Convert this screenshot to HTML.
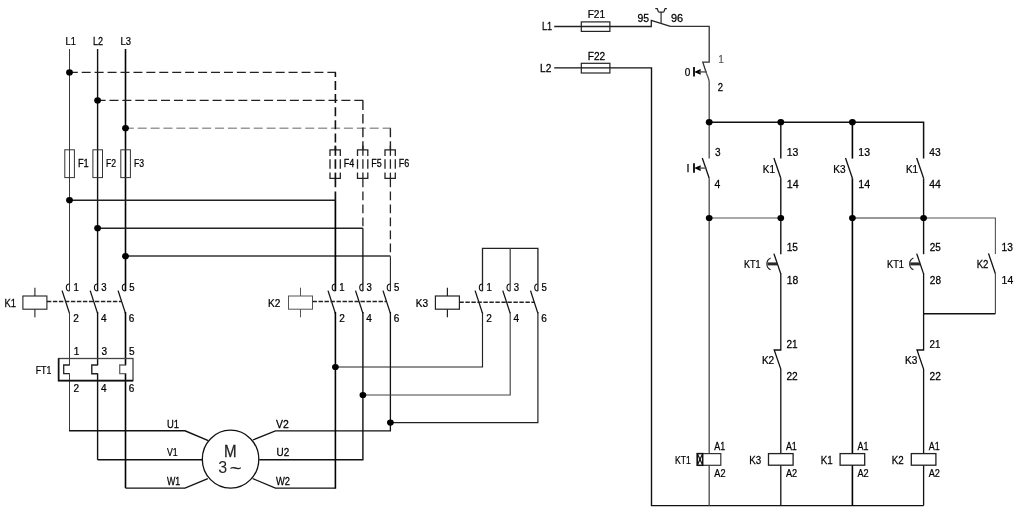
<!DOCTYPE html>
<html><head><meta charset="utf-8"><title>Star-delta starter</title>
<style>
html,body{margin:0;padding:0;background:#fff;}
svg{display:block;will-change:transform;}
text{font-family:"Liberation Sans",sans-serif;}
</style></head>
<body>
<svg width="1018" height="515" viewBox="0 0 1018 515">
<rect width="1018" height="515" fill="#fff"/>
<text transform="translate(65.50 45.4) scale(0.823 1)" font-size="11.3" fill="#000" stroke="#000" stroke-width="0.25">L1</text>
<text transform="translate(92.90 45.4) scale(0.804 1)" font-size="11.3" fill="#000" stroke="#000" stroke-width="0.25">L2</text>
<text transform="translate(120.50 45.4) scale(0.836 1)" font-size="11.3" fill="#000" stroke="#000" stroke-width="0.25">L3</text>
<path d="M69.5,49 L69.5,291" stroke="#3a3a3a" stroke-width="1.0" fill="none"/>
<path d="M97.6,49 L97.6,291" stroke="#111" stroke-width="1.4" fill="none"/>
<path d="M125.5,49 L125.5,291" stroke="#000" stroke-width="1.6" fill="none"/>
<path d="M68.77,72.4 L336,72.4" stroke="#222" stroke-width="1.4" fill="none" stroke-dasharray="9 3.93"/>
<path d="M96.6,100.4 L363.5,100.4" stroke="#222" stroke-width="1.4" fill="none" stroke-dasharray="9 3.884"/>
<path d="M124.8,128.2 L391,128.2" stroke="#999" stroke-width="1.6" fill="none" stroke-dasharray="9 3.89"/>
<path d="M335.4,72.4 L335.4,150" stroke="#111" stroke-width="1.6" fill="none" stroke-dasharray="9 4.1" stroke-dashoffset="4.5"/>
<path d="M362.9,100.4 L362.9,150" stroke="#222" stroke-width="1.4" fill="none" stroke-dasharray="9.6 4.0"/>
<path d="M390.4,128.2 L390.4,150" stroke="#222" stroke-width="1.4" fill="none" stroke-dasharray="9 4.0"/>
<rect x="64.8" y="149.8" width="9.6" height="27.8" stroke="#333" stroke-width="1.0" fill="none"/>
<text transform="translate(77.90 167.3) scale(0.877 1)" font-size="10.6" fill="#000" stroke="#000" stroke-width="0.25">F1</text>
<rect x="92.9" y="149.8" width="9.6" height="27.8" stroke="#333" stroke-width="1.0" fill="none"/>
<text transform="translate(106.00 167.3) scale(0.816 1)" font-size="10.6" fill="#000" stroke="#000" stroke-width="0.25">F2</text>
<rect x="120.8" y="149.8" width="9.6" height="27.8" stroke="#333" stroke-width="1.0" fill="none"/>
<text transform="translate(133.90 167.3) scale(0.816 1)" font-size="10.6" fill="#000" stroke="#000" stroke-width="0.25">F3</text>
<path d="M69.5,200.2 L335.4,200.2" stroke="#222" stroke-width="1.5" fill="none"/>
<path d="M97.6,228.2 L362.9,228.2" stroke="#222" stroke-width="1.5" fill="none"/>
<path d="M125.5,256 L390.4,256" stroke="#333" stroke-width="1.4" fill="none"/>
<path d="M330,156 L330,149.8 L340.3,149.8 L340.3,156" stroke="#222" stroke-width="1.3" fill="none"/>
<path d="M330,159.3 L330,168.8" stroke="#222" stroke-width="1.3" fill="none"/>
<path d="M340.3,159.3 L340.3,168.8" stroke="#222" stroke-width="1.3" fill="none"/>
<path d="M330,172.6 L330,178.3 L340.3,178.3 L340.3,172.6" stroke="#222" stroke-width="1.3" fill="none"/>
<path d="M335.4,145.6 L335.4,155.8" stroke="#111" stroke-width="1.7" fill="none"/>
<path d="M335.4,159.3 L335.4,168.8" stroke="#111" stroke-width="1.7" fill="none"/>
<path d="M335.4,172.6 L335.4,187.2" stroke="#111" stroke-width="1.7" fill="none"/>
<text transform="translate(343.70 167) scale(0.849 1)" font-size="10.6" fill="#000" stroke="#000" stroke-width="0.25">F4</text>
<path d="M335.4,191.5 L335.4,200.2" stroke="#111" stroke-width="1.7" fill="none" stroke-dasharray="8.8 4.2"/>
<path d="M335.4,200.2 L335.4,291" stroke="#000" stroke-width="1.7" fill="none"/>
<path d="M357.5,156 L357.5,149.8 L367.8,149.8 L367.8,156" stroke="#222" stroke-width="1.3" fill="none"/>
<path d="M357.5,159.3 L357.5,168.8" stroke="#222" stroke-width="1.3" fill="none"/>
<path d="M367.8,159.3 L367.8,168.8" stroke="#222" stroke-width="1.3" fill="none"/>
<path d="M357.5,172.6 L357.5,178.3 L367.8,178.3 L367.8,172.6" stroke="#222" stroke-width="1.3" fill="none"/>
<path d="M362.9,145.6 L362.9,155.8" stroke="#222" stroke-width="1.3" fill="none"/>
<path d="M362.9,159.3 L362.9,168.8" stroke="#222" stroke-width="1.3" fill="none"/>
<path d="M362.9,172.6 L362.9,187.2" stroke="#222" stroke-width="1.3" fill="none"/>
<text transform="translate(371.20 167) scale(0.849 1)" font-size="10.6" fill="#000" stroke="#000" stroke-width="0.25">F5</text>
<path d="M362.9,191.5 L362.9,228.2" stroke="#222" stroke-width="1.3" fill="none" stroke-dasharray="8.8 4.2"/>
<path d="M362.9,228.2 L362.9,291" stroke="#111" stroke-width="1.3" fill="none"/>
<path d="M385,156 L385,149.8 L395.3,149.8 L395.3,156" stroke="#222" stroke-width="1.3" fill="none"/>
<path d="M385,159.3 L385,168.8" stroke="#222" stroke-width="1.3" fill="none"/>
<path d="M395.3,159.3 L395.3,168.8" stroke="#222" stroke-width="1.3" fill="none"/>
<path d="M385,172.6 L385,178.3 L395.3,178.3 L395.3,172.6" stroke="#222" stroke-width="1.3" fill="none"/>
<path d="M390.4,145.6 L390.4,155.8" stroke="#222" stroke-width="1.3" fill="none"/>
<path d="M390.4,159.3 L390.4,168.8" stroke="#222" stroke-width="1.3" fill="none"/>
<path d="M390.4,172.6 L390.4,187.2" stroke="#222" stroke-width="1.3" fill="none"/>
<text transform="translate(398.70 167) scale(0.849 1)" font-size="10.6" fill="#000" stroke="#000" stroke-width="0.25">F6</text>
<path d="M390.4,191.5 L390.4,256.2" stroke="#222" stroke-width="1.3" fill="none" stroke-dasharray="8.8 4.2"/>
<path d="M390.4,256.2 L390.4,291" stroke="#222" stroke-width="1.1" fill="none"/>
<path d="M69.5,284 A3.2,3.5 0 0 0 69.5,291" stroke="#111" stroke-width="1.1" fill="none"/>
<path d="M62.1,290.6 L69.5,313.4" stroke="#111" stroke-width="1.3" fill="none"/>
<text transform="translate(73.46 290.9) scale(0.930 1)" font-size="10.3" fill="#000" stroke="#000" stroke-width="0.25">1</text>
<text transform="translate(73.30 321.7) scale(0.930 1)" font-size="10.8" fill="#000" stroke="#000" stroke-width="0.25">2</text>
<path d="M97.6,284 A3.2,3.5 0 0 0 97.6,291" stroke="#111" stroke-width="1.1" fill="none"/>
<path d="M90.2,290.6 L97.6,313.4" stroke="#111" stroke-width="1.3" fill="none"/>
<text transform="translate(101.20 290.9) scale(0.930 1)" font-size="10.3" fill="#000" stroke="#000" stroke-width="0.25">3</text>
<text transform="translate(100.95 321.7) scale(0.930 1)" font-size="10.8" fill="#000" stroke="#000" stroke-width="0.25">4</text>
<path d="M125.5,284 A3.2,3.5 0 0 0 125.5,291" stroke="#111" stroke-width="1.1" fill="none"/>
<path d="M118.1,290.6 L125.5,313.4" stroke="#111" stroke-width="1.3" fill="none"/>
<text transform="translate(129.15 290.9) scale(0.930 1)" font-size="10.3" fill="#000" stroke="#000" stroke-width="0.25">5</text>
<text transform="translate(128.80 321.7) scale(0.930 1)" font-size="10.8" fill="#000" stroke="#000" stroke-width="0.25">6</text>
<path d="M335.4,284 A3.2,3.5 0 0 0 335.4,291" stroke="#111" stroke-width="1.1" fill="none"/>
<path d="M328,290.6 L335.4,313.4" stroke="#111" stroke-width="1.3" fill="none"/>
<text transform="translate(339.36 290.9) scale(0.930 1)" font-size="10.3" fill="#000" stroke="#000" stroke-width="0.25">1</text>
<text transform="translate(339.20 321.7) scale(0.930 1)" font-size="10.8" fill="#000" stroke="#000" stroke-width="0.25">2</text>
<path d="M362.9,284 A3.2,3.5 0 0 0 362.9,291" stroke="#111" stroke-width="1.1" fill="none"/>
<path d="M355.5,290.6 L362.9,313.4" stroke="#111" stroke-width="1.3" fill="none"/>
<text transform="translate(366.50 290.9) scale(0.930 1)" font-size="10.3" fill="#000" stroke="#000" stroke-width="0.25">3</text>
<text transform="translate(366.25 321.7) scale(0.930 1)" font-size="10.8" fill="#000" stroke="#000" stroke-width="0.25">4</text>
<path d="M390.4,284 A3.2,3.5 0 0 0 390.4,291" stroke="#111" stroke-width="1.1" fill="none"/>
<path d="M383,290.6 L390.4,313.4" stroke="#111" stroke-width="1.3" fill="none"/>
<text transform="translate(394.05 290.9) scale(0.930 1)" font-size="10.3" fill="#000" stroke="#000" stroke-width="0.25">5</text>
<text transform="translate(393.70 321.7) scale(0.930 1)" font-size="10.8" fill="#000" stroke="#000" stroke-width="0.25">6</text>
<path d="M482.5,284 A3.2,3.5 0 0 0 482.5,291" stroke="#111" stroke-width="1.1" fill="none"/>
<path d="M475.1,290.6 L482.5,313.4" stroke="#111" stroke-width="1.3" fill="none"/>
<text transform="translate(486.46 290.9) scale(0.930 1)" font-size="10.3" fill="#000" stroke="#000" stroke-width="0.25">1</text>
<text transform="translate(486.30 321.7) scale(0.930 1)" font-size="10.8" fill="#000" stroke="#000" stroke-width="0.25">2</text>
<path d="M510.2,284 A3.2,3.5 0 0 0 510.2,291" stroke="#111" stroke-width="1.1" fill="none"/>
<path d="M502.8,290.6 L510.2,313.4" stroke="#111" stroke-width="1.3" fill="none"/>
<text transform="translate(513.80 290.9) scale(0.930 1)" font-size="10.3" fill="#000" stroke="#000" stroke-width="0.25">3</text>
<text transform="translate(513.55 321.7) scale(0.930 1)" font-size="10.8" fill="#000" stroke="#000" stroke-width="0.25">4</text>
<path d="M537.9,284 A3.2,3.5 0 0 0 537.9,291" stroke="#111" stroke-width="1.1" fill="none"/>
<path d="M530.5,290.6 L537.9,313.4" stroke="#111" stroke-width="1.3" fill="none"/>
<text transform="translate(541.55 290.9) scale(0.930 1)" font-size="10.3" fill="#000" stroke="#000" stroke-width="0.25">5</text>
<text transform="translate(541.20 321.7) scale(0.930 1)" font-size="10.8" fill="#000" stroke="#000" stroke-width="0.25">6</text>
<rect x="22.9" y="296" width="24" height="13.2" stroke="#222" stroke-width="1.1" fill="none"/>
<path d="M34.9,287.7 L34.9,296" stroke="#222" stroke-width="1.1" fill="none"/>
<path d="M34.9,309.2 L34.9,317.3" stroke="#222" stroke-width="1.1" fill="none"/>
<text transform="translate(4.50 307.3) scale(0.851 1)" font-size="11.1" fill="#000" stroke="#000" stroke-width="0.25">K1</text>
<rect x="288.5" y="296" width="24" height="13.2" stroke="#555" stroke-width="1.0" fill="none"/>
<path d="M300.5,287.7 L300.5,296" stroke="#555" stroke-width="1.0" fill="none"/>
<path d="M300.5,309.2 L300.5,317.3" stroke="#555" stroke-width="1.0" fill="none"/>
<text transform="translate(268.10 307.3) scale(0.906 1)" font-size="11.1" fill="#000" stroke="#000" stroke-width="0.25">K2</text>
<rect x="435.4" y="296" width="24" height="13.2" stroke="#222" stroke-width="1.2" fill="none"/>
<path d="M447.4,287.7 L447.4,296" stroke="#222" stroke-width="1.2" fill="none"/>
<path d="M447.4,309.2 L447.4,317.3" stroke="#222" stroke-width="1.2" fill="none"/>
<text transform="translate(415.80 307.3) scale(0.906 1)" font-size="11.1" fill="#000" stroke="#000" stroke-width="0.25">K3</text>
<path d="M46.9,301.5 L121.5,301.5" stroke="#222" stroke-width="1.5" fill="none" stroke-dasharray="4.4 1.6"/>
<path d="M312.5,301.5 L386.5,301.5" stroke="#222" stroke-width="1.5" fill="none" stroke-dasharray="4.4 1.6"/>
<path d="M459.4,302.3 L534.2,302.3" stroke="#222" stroke-width="1.5" fill="none" stroke-dasharray="4.4 1.6"/>
<path d="M69.5,312 L69.5,365.4" stroke="#3a3a3a" stroke-width="1.0" fill="none"/>
<path d="M69.5,373.3 L69.5,430.8" stroke="#3a3a3a" stroke-width="1.0" fill="none"/>
<path d="M69.5,365 L63.7,365 L63.7,373.7 L69.5,373.7" stroke="#222" stroke-width="1.3" fill="none"/>
<path d="M97.6,312 L97.6,365.4" stroke="#111" stroke-width="1.4" fill="none"/>
<path d="M97.6,373.3 L97.6,459.8" stroke="#111" stroke-width="1.4" fill="none"/>
<path d="M97.6,365 L91.8,365 L91.8,373.7 L97.6,373.7" stroke="#222" stroke-width="1.4" fill="none"/>
<path d="M125.5,312 L125.5,365.4" stroke="#000" stroke-width="1.6" fill="none"/>
<path d="M125.5,373.3 L125.5,488.1" stroke="#000" stroke-width="1.6" fill="none"/>
<path d="M125.5,365 L119.7,365 L119.7,373.7 L125.5,373.7" stroke="#666" stroke-width="1.3" fill="none"/>
<rect x="58.6" y="358.5" width="74.4" height="22.1" stroke="#444" stroke-width="1.3" fill="none"/>
<path d="M58.6,358.5 L58.6,380.6 L133,380.6" stroke="#111" stroke-width="1.6" fill="none"/>
<text transform="translate(35.70 373.7) scale(0.796 1)" font-size="11.1" fill="#000" stroke="#000" stroke-width="0.25">FT1</text>
<text transform="translate(73.80 354.8) scale(0.930 1)" font-size="10.8" fill="#000" stroke="#000" stroke-width="0.25">1</text>
<text transform="translate(73.50 392.2) scale(0.930 1)" font-size="10.8" fill="#000" stroke="#000" stroke-width="0.25">2</text>
<text transform="translate(101.40 354.8) scale(0.930 1)" font-size="10.8" fill="#000" stroke="#000" stroke-width="0.25">3</text>
<text transform="translate(100.95 392.2) scale(0.930 1)" font-size="10.8" fill="#000" stroke="#000" stroke-width="0.25">4</text>
<text transform="translate(129.00 354.8) scale(0.930 1)" font-size="10.8" fill="#000" stroke="#000" stroke-width="0.25">5</text>
<text transform="translate(128.80 392.2) scale(0.930 1)" font-size="10.8" fill="#000" stroke="#000" stroke-width="0.25">6</text>
<path d="M69,430.8 L185,430.8 L208.3,440.6" stroke="#111" stroke-width="1.5" fill="none"/>
<path d="M97.6,459.8 L202.3,459.8" stroke="#111" stroke-width="1.4" fill="none"/>
<path d="M125.5,488.1 L185,488.1 L207.8,478.6" stroke="#111" stroke-width="1.4" fill="none"/>
<ellipse cx="230.55" cy="459.15" rx="28.25" ry="28.95" stroke="#111" stroke-width="1.3" fill="#fff"/>
<text transform="translate(224.00 456.6) scale(0.950 1)" font-size="15.9" fill="#222" stroke="#222" stroke-width="0.25">M</text>
<text transform="translate(218.3 473.4)" font-size="16" fill="#222">3<tspan font-size="21" dx="2.4" dy="1.8">~</tspan></text>
<text transform="translate(167.00 427.5) scale(0.873 1)" font-size="10.8" fill="#000" stroke="#000" stroke-width="0.25">U1</text>
<text transform="translate(167.00 456.3) scale(0.810 1)" font-size="10.8" fill="#000" stroke="#000" stroke-width="0.25">V1</text>
<text transform="translate(167.00 485.2) scale(0.815 1)" font-size="10.8" fill="#000" stroke="#000" stroke-width="0.25">W1</text>
<text transform="translate(276.10 427.5) scale(0.969 1)" font-size="10.8" fill="#000" stroke="#000" stroke-width="0.25">V2</text>
<text transform="translate(276.60 456.3) scale(0.920 1)" font-size="10.8" fill="#000" stroke="#000" stroke-width="0.25">U2</text>
<text transform="translate(276.00 485.2) scale(0.864 1)" font-size="10.8" fill="#000" stroke="#000" stroke-width="0.25">W2</text>
<path d="M252.8,440 L275.4,430.8 L390.4,430.8 L390.4,312" stroke="#111" stroke-width="1.3" fill="none"/>
<path d="M259.3,459.8 L362.9,459.8 L362.9,312" stroke="#111" stroke-width="1.4" fill="none"/>
<path d="M252.6,478.5 L275.4,488.1 L335.4,488.1" stroke="#111" stroke-width="1.3" fill="none"/>
<path d="M335.4,488.7 L335.4,312" stroke="#000" stroke-width="1.6" fill="none"/>
<path d="M335.4,367 L482.5,367 L482.5,312" stroke="#222" stroke-width="1.15" fill="none"/>
<path d="M362.9,395 L510.2,395 L510.2,312" stroke="#444" stroke-width="1.15" fill="none"/>
<path d="M390.4,422.6 L537.9,422.6 L537.9,312" stroke="#222" stroke-width="1.2" fill="none"/>
<path d="M482.5,291 L482.5,248.3 L537.9,248.3 L537.9,291" stroke="#222" stroke-width="1.3" fill="none"/>
<path d="M510.2,248.3 L510.2,291" stroke="#444" stroke-width="1.3" fill="none"/>
<text transform="translate(541.90 30.1) scale(0.806 1)" font-size="11.3" fill="#000" stroke="#000" stroke-width="0.25">L1</text>
<text transform="translate(540.00 72) scale(0.899 1)" font-size="11.3" fill="#000" stroke="#000" stroke-width="0.25">L2</text>
<path d="M554.2,26.5 L651.3,26.5 L651.3,20.4 L670.4,26.3" stroke="#222" stroke-width="1.3" fill="none"/>
<path d="M670.2,26.4 L709.2,26.4 L709.2,62.2 L702.8,62.2 L706.5,73.5" stroke="#333" stroke-width="1.3" fill="none"/>
<path d="M706.5,73.5 Q708.8,78.5 709.2,81.5 L709.2,122.2" stroke="#555" stroke-width="1.4" fill="none"/>
<path d="M554.2,67.9 L651.5,67.9 L651.5,505.6 L923.6,505.6" stroke="#111" stroke-width="1.4" fill="none"/>
<rect x="581.3" y="21.9" width="28.6" height="9.5" stroke="#222" stroke-width="1.2" fill="none"/>
<rect x="581.3" y="63.3" width="28.6" height="9.7" stroke="#222" stroke-width="1.2" fill="none"/>
<text transform="translate(587.70 18.4) scale(0.953 1)" font-size="10.6" fill="#000" stroke="#000" stroke-width="0.25">F21</text>
<text transform="translate(587.70 60.3) scale(0.958 1)" font-size="10.6" fill="#000" stroke="#000" stroke-width="0.25">F22</text>
<text transform="translate(637.50 21.7) scale(0.966 1)" font-size="10.8" fill="#000" stroke="#000" stroke-width="0.25">95</text>
<text transform="translate(670.90 21.7) scale(1.016 1)" font-size="10.8" fill="#000" stroke="#000" stroke-width="0.25">96</text>
<path d="M661.1,12 L661.1,23" stroke="#555" stroke-width="1.5" fill="none"/>
<path d="M655.3,8.6 H657.2 L658.3,11.4 Q658.6,12.1 659.4,12.1 H662.9 Q663.7,12.1 664,11.4 L665.1,8.6 H666.9" stroke="#222" stroke-width="1.25" fill="none"/>
<text transform="translate(684.70 75.8) scale(0.930 1)" font-size="10.8" fill="#000" stroke="#000" stroke-width="0.25">0</text>
<path d="M694,67.1 L694,76.5" stroke="#111" stroke-width="1.9" fill="none"/>
<path d="M694.2,71.9 L700.6,69 L700.6,74.8 Z" fill="#000"/>
<path d="M699,71.9 L706.6,71.9" stroke="#555" stroke-width="1.4" fill="none"/>
<text transform="translate(718.42 63.3) scale(0.930 1)" font-size="10" fill="#555" stroke="#555" stroke-width="0.25">1</text>
<text transform="translate(717.70 90.5) scale(0.899 1)" font-size="10.6" fill="#000" stroke="#000" stroke-width="0.25">2</text>
<path d="M709.2,122.2 L923.6,122.2 L923.6,158.6" stroke="#111" stroke-width="1.5" fill="none"/>
<path d="M709.2,218 L780.8,218" stroke="#555" stroke-width="1.1" fill="none"/>
<path d="M852.4,218 L923.6,218" stroke="#333" stroke-width="1.2" fill="none"/>
<path d="M923.6,218 L995.4,218 L995.4,254" stroke="#555" stroke-width="1.1" fill="none"/>
<path d="M709.2,122.2 L709.2,158.6" stroke="#555" stroke-width="1.4" fill="none"/>
<path d="M702.3,158 L709.2,178.3" stroke="#111" stroke-width="1.3" fill="none"/>
<path d="M709.2,178.3 L709.2,505.6" stroke="#555" stroke-width="1.4" fill="none"/>
<text transform="translate(686.60 172) scale(1.000 1)" font-size="10.8" fill="#000" stroke="#000" stroke-width="0.25">I</text>
<path d="M694,163.3 L694,172.7" stroke="#111" stroke-width="1.9" fill="none"/>
<path d="M694.2,168.1 L700.6,165.2 L700.6,171 Z" fill="#000"/>
<path d="M699,168.1 L706.6,168.1" stroke="#555" stroke-width="1.4" fill="none"/>
<text transform="translate(715.00 156) scale(0.933 1)" font-size="10.8" fill="#000" stroke="#000" stroke-width="0.25">3</text>
<text transform="translate(714.60 188.4) scale(0.966 1)" font-size="10.8" fill="#000" stroke="#000" stroke-width="0.25">4</text>
<path d="M780.8,122.2 L780.8,158.6" stroke="#111" stroke-width="1.4" fill="none"/>
<path d="M773.9,158 L780.8,178.3" stroke="#111" stroke-width="1.3" fill="none"/>
<path d="M780.8,178.3 L780.8,254.2" stroke="#111" stroke-width="1.4" fill="none"/>
<text transform="translate(762.80 172.5) scale(0.891 1)" font-size="11.1" fill="#000" stroke="#000" stroke-width="0.25">K1</text>
<text transform="translate(786.68 156) scale(0.976 1)" font-size="10.8" fill="#000" stroke="#000" stroke-width="0.25">13</text>
<text transform="translate(786.68 188.4) scale(0.993 1)" font-size="10.8" fill="#000" stroke="#000" stroke-width="0.25">14</text>
<path d="M773.9,253.6 L780.8,273.9" stroke="#111" stroke-width="1.3" fill="none"/>
<path d="M780.8,273.3 L780.8,350 L774.2,350 L780.8,369 L780.8,505.6" stroke="#111" stroke-width="1.3" fill="none"/>
<path d="M852.4,122.2 L852.4,158.6" stroke="#000" stroke-width="1.6" fill="none"/>
<path d="M845.5,158 L852.4,178.3" stroke="#111" stroke-width="1.3" fill="none"/>
<path d="M852.4,178.3 L852.4,505.6" stroke="#000" stroke-width="1.6" fill="none"/>
<text transform="translate(833.20 172.5) scale(0.913 1)" font-size="11.1" fill="#000" stroke="#000" stroke-width="0.25">K3</text>
<text transform="translate(858.28 156) scale(0.976 1)" font-size="10.8" fill="#000" stroke="#000" stroke-width="0.25">13</text>
<text transform="translate(858.28 188.4) scale(0.993 1)" font-size="10.8" fill="#000" stroke="#000" stroke-width="0.25">14</text>
<path d="M916.7,158 L923.6,178.3" stroke="#111" stroke-width="1.3" fill="none"/>
<path d="M923.6,178.3 L923.6,254.2" stroke="#111" stroke-width="1.4" fill="none"/>
<text transform="translate(905.90 172.5) scale(0.891 1)" font-size="11.1" fill="#000" stroke="#000" stroke-width="0.25">K1</text>
<text transform="translate(929.30 156) scale(0.949 1)" font-size="10.8" fill="#000" stroke="#000" stroke-width="0.25">43</text>
<text transform="translate(929.30 188.4) scale(0.966 1)" font-size="10.8" fill="#000" stroke="#000" stroke-width="0.25">44</text>
<path d="M916.7,253.6 L923.6,273.9" stroke="#111" stroke-width="1.3" fill="none"/>
<path d="M923.6,273.3 L923.6,350 L917,350 L923.6,369 L923.6,505.6" stroke="#111" stroke-width="1.3" fill="none"/>
<path d="M923.6,313.7 L995.4,313.7" stroke="#111" stroke-width="1.6" fill="none"/>
<path d="M988.5,253.4 L995.4,273.7" stroke="#111" stroke-width="1.3" fill="none"/>
<path d="M995.4,273.5 L995.4,313.7" stroke="#444" stroke-width="1.1" fill="none"/>
<text transform="translate(976.70 267.8) scale(0.862 1)" font-size="11.1" fill="#000" stroke="#000" stroke-width="0.25">K2</text>
<text transform="translate(1001.60 251.3) scale(0.941 1)" font-size="10.8" fill="#000" stroke="#000" stroke-width="0.25">13</text>
<text transform="translate(1001.59 283.5) scale(0.967 1)" font-size="10.8" fill="#000" stroke="#000" stroke-width="0.25">14</text>
<path d="M770.6,258 C765.6,260.5 765.6,267.3 770.6,269.7" stroke="#222" stroke-width="1.1" fill="none"/>
<path d="M767.4,263.9 L777.3,263.9" stroke="#2a2a2a" stroke-width="3.0" fill="none"/>
<path d="M913.4,258 C908.4,260.5 908.4,267.3 913.4,269.7" stroke="#222" stroke-width="1.1" fill="none"/>
<path d="M910.2,263.9 L920.1,263.9" stroke="#2a2a2a" stroke-width="3.0" fill="none"/>
<text transform="translate(744.00 268.1) scale(0.817 1)" font-size="11.1" fill="#000" stroke="#000" stroke-width="0.25">KT1</text>
<text transform="translate(786.70 251.1) scale(0.941 1)" font-size="10.8" fill="#000" stroke="#000" stroke-width="0.25">15</text>
<text transform="translate(786.69 284) scale(0.958 1)" font-size="10.8" fill="#000" stroke="#000" stroke-width="0.25">18</text>
<text transform="translate(887.00 267.7) scale(0.837 1)" font-size="11.1" fill="#000" stroke="#000" stroke-width="0.25">KT1</text>
<text transform="translate(929.80 251.3) scale(0.924 1)" font-size="10.8" fill="#000" stroke="#000" stroke-width="0.25">25</text>
<text transform="translate(929.80 283.8) scale(0.933 1)" font-size="10.8" fill="#000" stroke="#000" stroke-width="0.25">28</text>
<text transform="translate(761.90 363.9) scale(0.906 1)" font-size="11.1" fill="#000" stroke="#000" stroke-width="0.25">K2</text>
<text transform="translate(786.40 347.9) scale(0.933 1)" font-size="10.8" fill="#000" stroke="#000" stroke-width="0.25">21</text>
<text transform="translate(786.40 379.5) scale(0.941 1)" font-size="10.8" fill="#000" stroke="#000" stroke-width="0.25">22</text>
<text transform="translate(905.00 363.8) scale(0.906 1)" font-size="11.1" fill="#000" stroke="#000" stroke-width="0.25">K3</text>
<text transform="translate(929.50 348) scale(0.906 1)" font-size="10.8" fill="#000" stroke="#000" stroke-width="0.25">21</text>
<text transform="translate(929.50 379.5) scale(0.941 1)" font-size="10.8" fill="#000" stroke="#000" stroke-width="0.25">22</text>
<rect x="697.3" y="453.6" width="23.5" height="11.7" stroke="#333" stroke-width="1.2" fill="#fff"/>
<rect x="697.3" y="453.6" width="5.4" height="11.7" stroke="#111" stroke-width="1.5" fill="#fff"/>
<path d="M697.3,453.6 L702.7,465.3" stroke="#111" stroke-width="1.2" fill="none"/>
<path d="M702.7,453.6 L697.3,465.3" stroke="#111" stroke-width="1.2" fill="none"/>
<text transform="translate(674.90 463.6) scale(0.776 1)" font-size="11.1" fill="#000" stroke="#000" stroke-width="0.25">KT1</text>
<text transform="translate(714.30 450.2) scale(0.826 1)" font-size="10.8" fill="#000" stroke="#000" stroke-width="0.25">A1</text>
<text transform="translate(714.30 477.2) scale(0.848 1)" font-size="10.8" fill="#000" stroke="#000" stroke-width="0.25">A2</text>
<rect x="768.5" y="453.6" width="24.6" height="11.6" stroke="#222" stroke-width="1.3" fill="#fff"/>
<text transform="translate(749.20 463.6) scale(0.884 1)" font-size="11.1" fill="#000" stroke="#000" stroke-width="0.25">K3</text>
<text transform="translate(785.90 450.2) scale(0.826 1)" font-size="10.8" fill="#000" stroke="#000" stroke-width="0.25">A1</text>
<text transform="translate(785.90 477.2) scale(0.848 1)" font-size="10.8" fill="#000" stroke="#000" stroke-width="0.25">A2</text>
<rect x="840.1" y="453.6" width="24.6" height="11.6" stroke="#222" stroke-width="1.3" fill="#fff"/>
<text transform="translate(820.80 463.6) scale(0.883 1)" font-size="11.1" fill="#000" stroke="#000" stroke-width="0.25">K1</text>
<text transform="translate(857.50 450.2) scale(0.826 1)" font-size="10.8" fill="#000" stroke="#000" stroke-width="0.25">A1</text>
<text transform="translate(857.50 477.2) scale(0.848 1)" font-size="10.8" fill="#000" stroke="#000" stroke-width="0.25">A2</text>
<rect x="911.3" y="453.6" width="24.6" height="11.6" stroke="#222" stroke-width="1.3" fill="#fff"/>
<text transform="translate(891.80 463.6) scale(0.884 1)" font-size="11.1" fill="#000" stroke="#000" stroke-width="0.25">K2</text>
<text transform="translate(928.70 450.2) scale(0.826 1)" font-size="10.8" fill="#000" stroke="#000" stroke-width="0.25">A1</text>
<text transform="translate(928.70 477.2) scale(0.848 1)" font-size="10.8" fill="#000" stroke="#000" stroke-width="0.25">A2</text>
<ellipse cx="69.5" cy="72.4" rx="3.4" ry="3.1" fill="#000"/>
<ellipse cx="97.6" cy="100.4" rx="3.4" ry="3.1" fill="#000"/>
<ellipse cx="125.5" cy="128.2" rx="3.4" ry="3.1" fill="#000"/>
<ellipse cx="69.5" cy="200.2" rx="3.4" ry="3.1" fill="#000"/>
<ellipse cx="97.6" cy="228.2" rx="3.4" ry="3.1" fill="#000"/>
<ellipse cx="125.5" cy="256.2" rx="3.4" ry="3.1" fill="#000"/>
<ellipse cx="335.4" cy="367" rx="3.4" ry="3.1" fill="#000"/>
<ellipse cx="362.9" cy="395" rx="3.4" ry="3.1" fill="#000"/>
<ellipse cx="390.4" cy="422.6" rx="3.4" ry="3.1" fill="#000"/>
<ellipse cx="709.2" cy="122.2" rx="3.4" ry="3.1" fill="#000"/>
<ellipse cx="780.8" cy="122.2" rx="3.4" ry="3.1" fill="#000"/>
<ellipse cx="852.4" cy="122.2" rx="3.4" ry="3.1" fill="#000"/>
<ellipse cx="709.2" cy="218" rx="3.4" ry="3.1" fill="#000"/>
<ellipse cx="780.8" cy="218" rx="3.4" ry="3.1" fill="#000"/>
<ellipse cx="852.4" cy="218" rx="3.4" ry="3.1" fill="#000"/>
<ellipse cx="923.6" cy="218" rx="3.4" ry="3.1" fill="#000"/>
</svg>
</body></html>
